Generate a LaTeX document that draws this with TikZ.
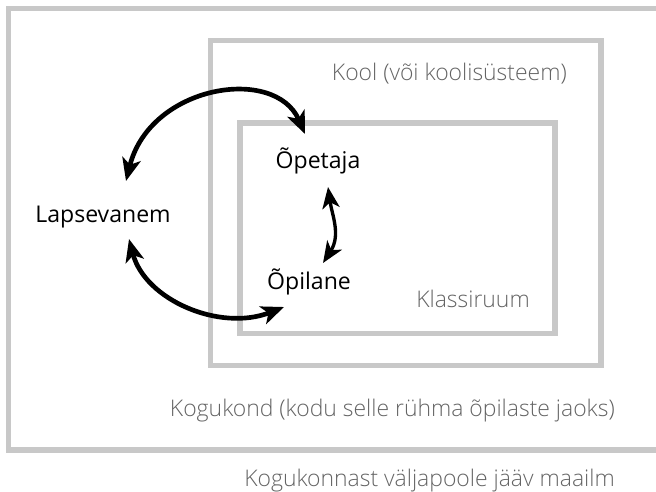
\documentclass[tikz,border=0pt]{standalone}
\usepackage{fontspec}
\setmainfont{Open Sans}
\newfontfamily\lightfont{Open Sans Light}
\usetikzlibrary{arrows.meta}
\definecolor{boxgrey}{RGB}{200,200,200}
\definecolor{textgrey}{RGB}{100,100,100}
\tikzset{
  x=0.75pt, y=-0.75pt,
  frame/.style={draw=boxgrey, line width=4.2pt},
  actor/.style={inner sep=0pt, text=black, font=\fontsize{17.3pt}{20pt}\selectfont, anchor=base},
  label/.style={inner sep=0pt, text=textgrey, font=\lightfont\fontsize{17.2pt}{20pt}\selectfont, anchor=base east},
  bigarrow/.style={line width=3.5pt, {Stealth[length=17pt,width=14pt,inset=4.5pt]}-{Stealth[length=17pt,width=14pt,inset=4.5pt]}},
  smallarrow/.style={line width=2.5pt, {Stealth[length=16pt,width=13pt,inset=4.5pt]}-{Stealth[length=16pt,width=13pt,inset=4.5pt]}}
}
\begin{document}
\begin{tikzpicture}
\useasboundingbox (0,0) rectangle (656,492);
\clip (0,0) rectangle (656,492);
% frames
\draw[frame] (8.5,8.5) rectangle (680,450);
\draw[frame] (210.5,40.5) rectangle (601,365.5);
\draw[frame] (240,123) rectangle (555,333.5);
% grey labels
\node[label] (kool) at (567,80) {Kool (või koolisüsteem)};
\node[label] (klass) at (530,307) {Klassiruum};
\node[label] (kogu) at (615,416) {Kogukond (kodu selle rühma õpilaste jaoks)};
\node[label] (maailm) at (615,486) {Kogukonnast väljapoole jääv maailm};
% actors
\node[actor] (opetaja) at (318,168) {Õpetaja};
\node[actor] (lapsevanem) at (103,222) {Lapsevanem};
\node[actor] (opilane) at (309,289) {Õpilane};
% arrow ends
\coordinate (lapTop) at (126,181);
\coordinate (opeTop) at (305,134);
\coordinate (lapBot) at (129,239);
\coordinate (opiBot) at (284,307);
\coordinate (opeMid) at (328,187);
\coordinate (opiMid) at (323,263);
% arrows
\draw[bigarrow] (lapTop) .. controls (150,85) and (275,65) .. (opeTop);
\draw[bigarrow] (lapBot) .. controls (145,300) and (220,332) .. (opiBot);
\draw[smallarrow] (opiMid) .. controls (341,235) and (332,215) .. (opeMid);
\end{tikzpicture}
\end{document}
